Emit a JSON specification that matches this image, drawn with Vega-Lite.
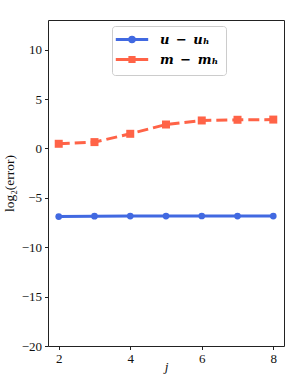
{
  "$schema": "https://vega.github.io/schema/vega-lite/v6.json",
  "autosize": "none",
  "padding": {"left": 48, "top": 20, "right": 15, "bottom": 43},
  "width": 236,
  "height": 326,
  "background": "white",
  "config": {
    "view": {"stroke": "#222", "strokeWidth": 1},
    "axis": {
      "labelFont": "Liberation Serif",
      "labelFontSize": 13,
      "labelColor": "#111",
      "titleFont": "Liberation Serif",
      "titleFontSize": 13.5,
      "titleFontWeight": "normal",
      "titleColor": "#111",
      "tickColor": "#222",
      "tickSize": 3.5,
      "domain": false,
      "grid": false
    }
  },
  "data": {
    "values": [
      {"j": 2, "err": -6.9, "s": "u − uₕ"},
      {"j": 3, "err": -6.86, "s": "u − uₕ"},
      {"j": 4, "err": -6.85, "s": "u − uₕ"},
      {"j": 5, "err": -6.85, "s": "u − uₕ"},
      {"j": 6, "err": -6.84, "s": "u − uₕ"},
      {"j": 7, "err": -6.85, "s": "u − uₕ"},
      {"j": 8, "err": -6.85, "s": "u − uₕ"},
      {"j": 2, "err": 0.47, "s": "m − mₕ"},
      {"j": 3, "err": 0.64, "s": "m − mₕ"},
      {"j": 4, "err": 1.48, "s": "m − mₕ"},
      {"j": 5, "err": 2.42, "s": "m − mₕ"},
      {"j": 6, "err": 2.83, "s": "m − mₕ"},
      {"j": 7, "err": 2.9, "s": "m − mₕ"},
      {"j": 8, "err": 2.92, "s": "m − mₕ"}
    ]
  },
  "encoding": {
    "x": {
      "field": "j", "type": "quantitative",
      "scale": {"domain": [1.7, 8.3], "nice": false, "zero": false},
      "axis": {"values": [2, 4, 6, 8], "title": "j", "titleFontStyle": "italic", "titlePadding": -6, "labelPadding": 3}
    },
    "y": {
      "field": "err", "type": "quantitative",
      "scale": {"domain": [-20, 13], "nice": false, "zero": false},
      "axis": {"values": [-20, -15, -10, -5, 0, 5, 10], "title": "log₂(error)", "titlePadding": 5, "labelPadding": 3}
    },
    "color": {
      "field": "s", "type": "nominal",
      "scale": {"domain": ["u − uₕ", "m − mₕ"], "range": ["#4169E1", "#FF6347"]},
      "legend": {
        "orient": "none",
        "legendX": 64,
        "legendY": 6,
        "title": null,
        "padding": 7,
        "fillColor": "white",
        "strokeColor": "#cccccc",
        "cornerRadius": 3,
        "symbolSize": 100,
        "symbolOffset": 6.5,
        "symbolStrokeWidth": 3,
        "labelOffset": 21.5,
        "rowPadding": 3,
        "labelFont": "DejaVu Serif",
        "labelFontSize": 13,
        "labelFontWeight": "bold",
        "labelFontStyle": "italic",
        "labelColor": "#000",
        "labelExpr": "replace(datum.label, regexp(' ', 'g'), '\u2002')",
        "encode": {
          "symbols": {
            "update": {
              "shape": {"signal": "indexof(datum.value, 'u') == 0 ? 'M-3.24,0H3.24M0.45,0A0.45,0.45 0 1,1 -0.45,0A0.45,0.45 0 1,1 0.45,0Z' : 'M-3.24,0H3.24M-0.42,-0.42H0.42V0.42H-0.42Z'"},
              "fill": {"scale": "color", "field": "value"},
              "stroke": {"scale": "color", "field": "value"},
              "strokeWidth": {"value": 3},
              "opacity": {"value": 1}
            }
          }
        }
      }
    }
  },
  "layer": [
    {
      "transform": [{"filter": "datum.s == 'u − uₕ'"}],
      "mark": {"type": "line", "strokeWidth": 3}
    },
    {
      "transform": [{"filter": "datum.s == 'm − mₕ'"}],
      "mark": {"type": "line", "strokeWidth": 3, "strokeDash": [11, 5]}
    },
    {
      "transform": [{"filter": "datum.s == 'u − uₕ'"}],
      "mark": {"type": "point", "filled": true, "opacity": 1, "shape": "circle", "size": 45}
    },
    {
      "transform": [{"filter": "datum.s == 'm − mₕ'"}],
      "mark": {"type": "point", "filled": true, "opacity": 1, "shape": "square", "size": 64}
    }
  ]
}
